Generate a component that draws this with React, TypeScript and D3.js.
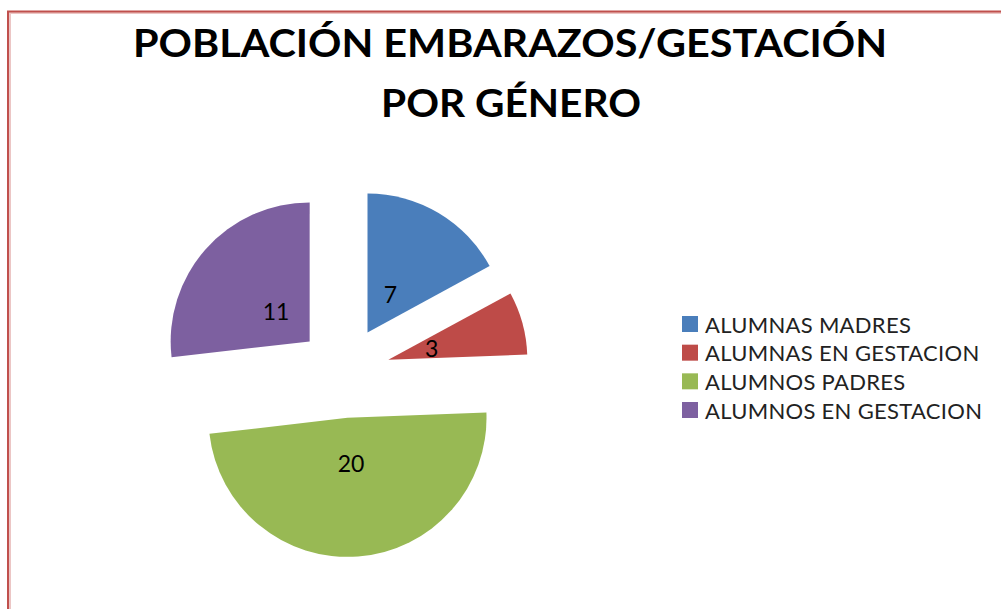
import React from 'react';
import * as d3 from 'd3';

// chart data
const categories = ['ALUMNAS MADRES', 'ALUMNAS EN GESTACION', 'ALUMNOS PADRES', 'ALUMNOS EN GESTACION'];
const values = [7, 3, 20, 11];
const colors = ['#4a7ebb', '#be4b48', '#98b954', '#7d60a0'];
const titleLines = ['POBLACIÓN EMBARAZOS/GESTACIÓN', 'POR GÉNERO'];

const W = 1001, H = 609;
const cx = 344, cy = 372;   // pie centre (before explode)
const radius = 139;
const explode = 46;         // every slice pulled out by this much
const labelDist = 45;       // label distance from slice apex

const font = 'Lato, "Open Sans", sans-serif';

const App = () => {
  const pie = d3.pie<number>().sort(null).value(d => d).startAngle(0).endAngle(2 * Math.PI);
  const arcs = pie(values);
  const arc = d3.arc<d3.PieArcDatum<number>>().innerRadius(0).outerRadius(radius);

  const legendY = d3.scalePoint<string>().domain(categories).range([324, 410]);

  return (
    <svg width={W} height={H} style={{ position: 'absolute', left: 0, top: 0, background: '#fff' }}>
      {/* chart frame: dark edge with a soft inner shade */}
      <rect x={10} y={13} width={W + 10} height={H + 10} fill="none" stroke="#ecc6c5" strokeWidth={2} />
      <rect x={8} y={11.5} width={W + 10} height={H + 10} fill="none" stroke="#c0504d" strokeWidth={2} />

      {/* title */}
      <text x={510} y={57} textAnchor="middle" fontFamily={font} fontWeight="bold" fontSize={37.5}
        textLength={754} lengthAdjust="spacingAndGlyphs" fill="#000">{titleLines[0]}</text>
      <text x={511} y={117} textAnchor="middle" fontFamily={font} fontWeight="bold" fontSize={37.5}
        textLength={260} lengthAdjust="spacingAndGlyphs" fill="#000">{titleLines[1]}</text>

      {/* slices */}
      <g transform={`translate(${cx},${cy})`}>
        {arcs.map((a, i) => {
          const mid = (a.startAngle + a.endAngle) / 2;
          const ux = Math.sin(mid), uy = -Math.cos(mid);
          const ox = ux * explode, oy = uy * explode;
          return (
            <g key={i} transform={`translate(${ox},${oy})`}>
              <path d={arc(a) || ''} fill={colors[i]} />
              <text x={ux * labelDist} y={uy * labelDist} textAnchor="middle" dominantBaseline="central"
                fontFamily={font} fontSize={23} fill="#000">{values[i]}</text>
            </g>
          );
        })}
      </g>

      {/* legend */}
      {categories.map((c, i) => {
        const y = legendY(c) as number;
        return (
          <g key={c}>
            <rect x={682} y={y - 8} width={16} height={16} fill={colors[i]} />
            <text x={705} y={y} dominantBaseline="central" fontFamily={font} fontSize={22}
              letterSpacing={0.3} fill="#222">{c}</text>
          </g>
        );
      })}
    </svg>
  );
};

export default App;
